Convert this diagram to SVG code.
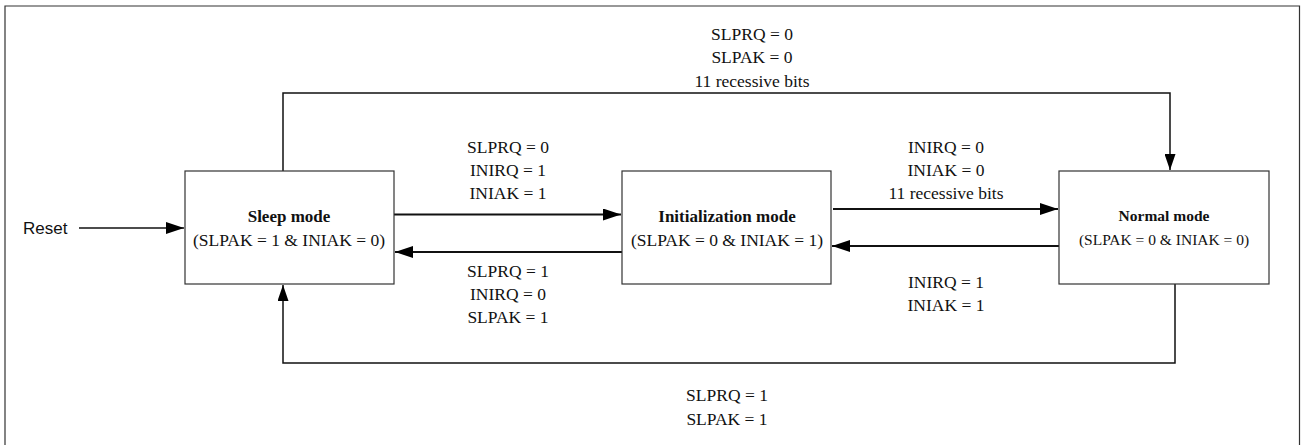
<svg xmlns="http://www.w3.org/2000/svg" width="1301" height="445" viewBox="0 0 1301 445">
<style>
.frame{fill:none;stroke:#333;stroke-width:1.2}
.box{fill:#fff;stroke:#333;stroke-width:1.2}
.c{fill:none;stroke:#111;stroke-width:1.5}
.c2{fill:none;stroke:#111;stroke-width:2}
.t{font-family:"Liberation Serif","Times New Roman",serif;font-size:17.5px;fill:#111;text-anchor:middle}
.tb{font-family:"Liberation Serif","Times New Roman",serif;font-size:17px;font-weight:bold;fill:#111;text-anchor:middle}
.ts{font-family:"Liberation Serif","Times New Roman",serif;font-size:15.5px;fill:#111;text-anchor:middle}
.tsb{font-family:"Liberation Serif","Times New Roman",serif;font-size:15.5px;font-weight:bold;fill:#111;text-anchor:middle}
.sans{font-family:"Liberation Sans",Arial,sans-serif;font-size:17px;fill:#111}
</style>
<defs>
<marker id="ah" viewBox="0 0 18 12" refX="18" refY="6" markerWidth="18" markerHeight="12" markerUnits="userSpaceOnUse" orient="auto">
<path d="M0,0 L18,6 L0,12 Z" fill="#000"/>
</marker>
<marker id="ah2" viewBox="0 0 16 11" refX="16" refY="5.5" markerWidth="16" markerHeight="11" markerUnits="userSpaceOnUse" orient="auto">
<path d="M0,0 L16,5.5 L0,11 Z" fill="#000"/>
</marker>
</defs>
<rect width="1301" height="445" fill="#fff"/>
<path class="frame" d="M5,450 V6 H1299.5 V450"/>

<g id="connectors">
<line class="c" x1="79" y1="228" x2="184" y2="228" marker-end="url(#ah)"/>
<polyline class="c" points="283,171 283,93 1170,93 1170,170" marker-end="url(#ah2)"/>
<line class="c2" x1="394" y1="214.5" x2="621" y2="214.5" marker-end="url(#ah)"/>
<line class="c2" x1="622" y1="252" x2="395" y2="252" marker-end="url(#ah)"/>
<line class="c2" x1="833" y1="209" x2="1058" y2="209" marker-end="url(#ah)"/>
<line class="c2" x1="1059" y1="246" x2="832" y2="246" marker-end="url(#ah)"/>
<polyline class="c" points="1175,284 1175,363 283,363 283,285" marker-end="url(#ah2)"/>
</g>

<g id="reset">
<text class="sans" x="23" y="234">Reset</text>
</g>

<g id="sleep">
<rect class="box" x="185" y="171" width="209" height="113"/>
<text class="tb" x="289" y="222">Sleep mode</text>
<text class="t" x="289" y="246">(SLPAK = 1 &amp; INIAK = 0)</text>
</g>

<g id="init">
<rect class="box" x="622" y="171" width="209" height="113"/>
<text class="tb" x="727" y="222">Initialization mode</text>
<text class="t" x="727" y="246">(SLPAK = 0 &amp; INIAK = 1)</text>
</g>

<g id="normal">
<rect class="box" x="1059" y="171" width="210" height="113"/>
<text class="tsb" x="1164" y="221">Normal mode</text>
<text class="ts" x="1164" y="245">(SLPAK = 0 &amp; INIAK = 0)</text>
</g>

<g id="labels">
<text class="t" x="752" y="40">SLPRQ = 0</text>
<text class="t" x="752" y="63">SLPAK = 0</text>
<text class="t" x="752" y="87">11 recessive bits</text>

<text class="t" x="508" y="153">SLPRQ = 0</text>
<text class="t" x="508" y="176">INIRQ = 1</text>
<text class="t" x="508" y="199">INIAK = 1</text>

<text class="t" x="508" y="277">SLPRQ = 1</text>
<text class="t" x="508" y="300">INIRQ = 0</text>
<text class="t" x="508" y="323">SLPAK = 1</text>

<text class="t" x="946" y="153">INIRQ = 0</text>
<text class="t" x="946" y="176">INIAK = 0</text>
<text class="t" x="946" y="199">11 recessive bits</text>

<text class="t" x="946" y="288">INIRQ = 1</text>
<text class="t" x="946" y="311">INIAK = 1</text>

<text class="t" x="727" y="401">SLPRQ = 1</text>
<text class="t" x="727" y="425">SLPAK = 1</text>
</g>
</svg>
